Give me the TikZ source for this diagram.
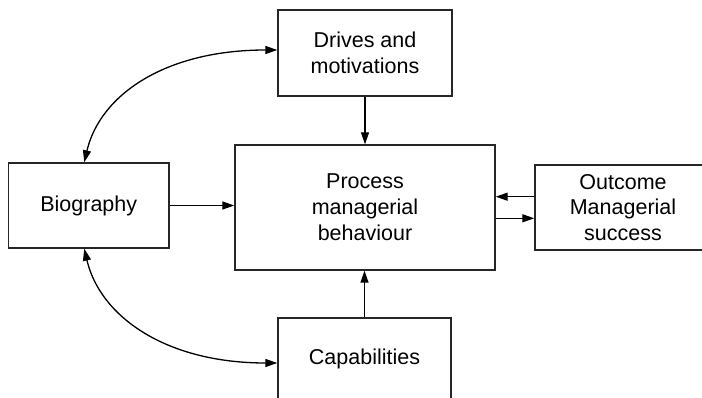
\documentclass[tikz,border=0pt]{standalone}
\usepackage{fontspec}
\setmainfont{Liberation Sans}
\usetikzlibrary{arrows.meta,calc}

\tikzset{
  box/.style={draw=black!85, line width=1.4pt, rectangle, align=center,
    inner sep=0pt, font=\fontsize{21.5}{25.8}\selectfont},
  tip/.style={Triangle[length=12pt,width=8pt]},
  arr/.style={line width=1.3pt, -{Triangle[length=12pt,width=8pt]}},
  biarr/.style={line width=1.3pt, {Triangle[length=12pt,width=8pt]}-{Triangle[length=12pt,width=8pt]}}
}

\begin{document}
\begin{tikzpicture}[x=1pt,y=-1pt]
  \useasboundingbox (0,0) rectangle (702,398);
  \clip (0,0) rectangle (702,398);

  % boxes
  \node[box, minimum width=174pt, minimum height=86pt]  (drives) at (365,53)    {Drives and\\motivations};
  \node[box, minimum width=260pt, minimum height=125pt] (proc)   at (365,207.5) {Process\\managerial\\behaviour};
  \node[box, minimum width=160.5pt, minimum height=85pt] (bio)   at (88.75,205.5) {Biography};
  \node[box, minimum width=176pt, minimum height=85pt]  (outc)   at (623,207.5) {Outcome\\Managerial\\success};
  \node[box, minimum width=173pt, minimum height=82pt]  (cap)    at (364.5,359) {Capabilities};

  % straight connectors into the central process
  \draw[arr] (drives.south) -- (drives.south |- proc.north);
  \draw[arr] (cap.north) -- (cap.north |- proc.south);
  \draw[arr] (bio.east) -- (bio.east -| proc.west);
  \draw[arr] ([yshift=10.8pt]outc.west) -- ([yshift=10.8pt]outc.west -| proc.east);
  \draw[arr] ([yshift=-10.8pt]outc.west -| proc.east) -- ([yshift=-10.8pt]outc.west);

  % curved two-way links from the biography
  \coordinate (bt) at ([xshift=-4.5pt]bio.north);
  \coordinate (bb) at ([xshift=-4.5pt]bio.south);
  \coordinate (dl) at ([yshift=3pt]drives.west);
  \coordinate (cl) at ([yshift=-4pt]cap.west);
  \draw[biarr] (bt) .. controls (100,95) and (165,50) .. (dl);
  \draw[biarr] (bb) .. controls (100,316) and (165,363) .. (cl);
\end{tikzpicture}
\end{document}
